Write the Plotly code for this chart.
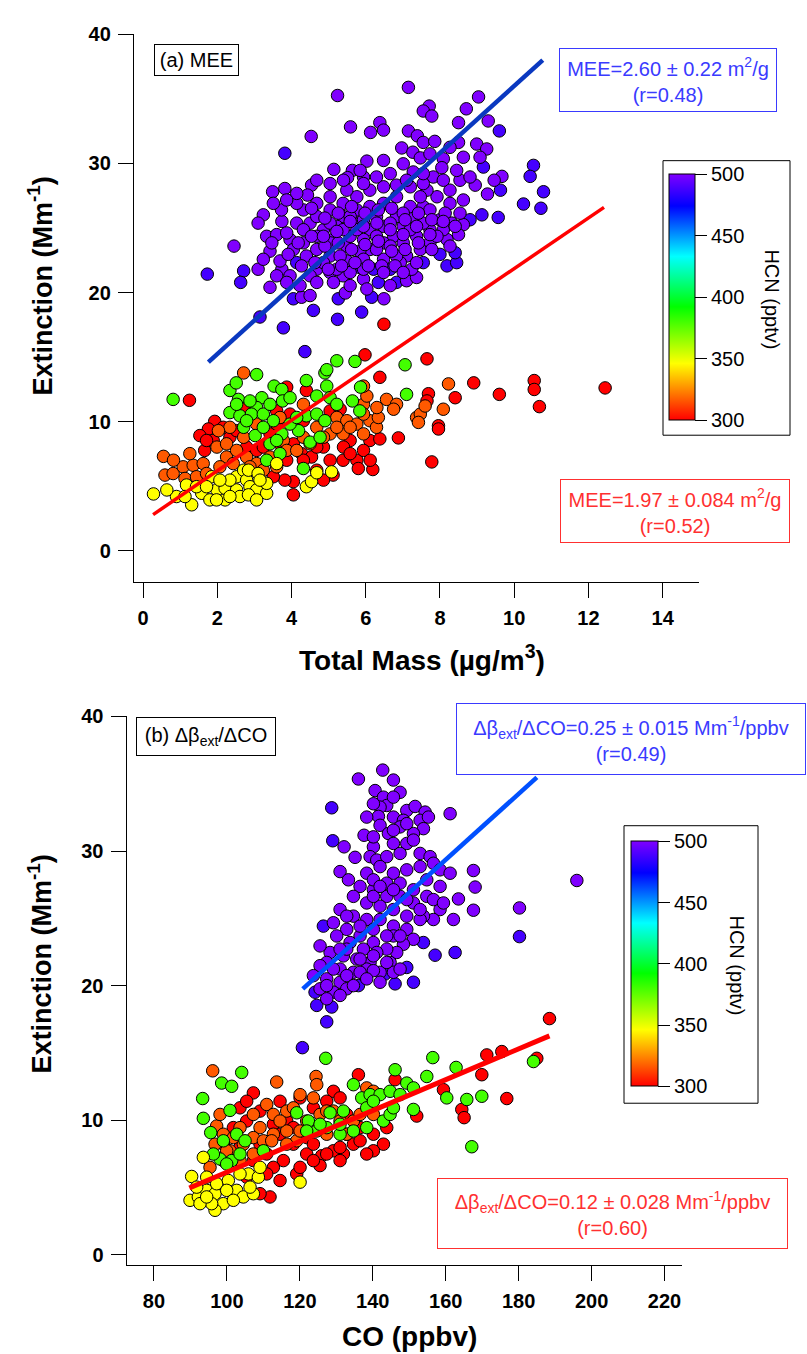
import plotly.graph_objects as go

# ---------------- DATA ----------------
# HCN (pptv) representative value of each colour group
HCN_PURPLE, HCN_BLUE, HCN_GREEN, HCN_YELLOW, HCN_ORANGE, HCN_RED = 510, 488, 380, 346, 316, 295

# Panel (a): (Total Mass, Extinction)
a_purple = [(5.24,35.26),(7.15,35.89),(9.04,35.15),(7.71,34.44),(7.55,34.06),(7.78,33.67),(8.71,34.23),(8.50,33.16),
 (9.30,33.29),(5.59,32.83),(6.38,33.16),(6.13,32.40),(6.48,32.58),(4.53,32.09),(7.15,32.52),(7.39,32.14),(7.55,31.63),
 (7.86,31.71),(6.97,31.20),(7.27,30.87),(7.47,30.43),(8.09,30.36),(8.50,31.63),(8.99,31.50),(9.26,31.12),(9.08,30.48),
 (9.67,29.00),(9.46,28.70),(9.28,27.63),(8.95,28.32),(8.54,28.70),(5.14,29.54),(6.03,30.18),(5.64,29.46),(5.51,28.90),
 (5.94,28.95),(6.66,29.21),(7.28,29.34),(8.05,29.67),(3.49,27.81),(3.82,28.06),(4.54,28.32),(4.43,27.55),(3.24,26.02),
 (3.10,25.38),(3.74,25.51),(2.45,23.60),(3.10,21.81),(3.42,20.41),(3.74,21.81),(6.49,19.52),(4.27,19.64),(4.50,19.77),
 (5.45,19.97),(6.66,20.54),(7.10,20.92),(7.37,21.17),(5.94,21.05),(5.39,21.30),(5.04,21.56),(4.68,21.81),(3.69,22.45),
 (3.42,23.21),(3.33,24.36),(3.60,24.49),(3.96,24.11),(4.32,23.85),(4.68,23.34),(5.04,22.83),(5.49,22.45),(7.10,22.83),
 (8.63,25.26),(8.32,25.38),(8.54,26.15),(8.27,26.91),(7.92,27.42),(7.65,27.93),(7.55,26.66),(7.28,25.89),(7.01,25.13),
 (6.75,24.36),(6.48,23.85),(6.11,23.34),(5.84,23.21),(5.49,23.60),(5.12,24.11),(4.86,24.87),(4.50,25.38),(4.14,25.38),
 (3.87,24.62),(4.05,23.34),(4.40,22.83),(4.68,25.89),(5.04,26.40),(5.39,25.89),(5.76,25.38),(6.11,24.87),(6.48,25.13),
 (6.83,25.89),(7.20,26.66),(7.47,27.42),(7.20,28.19),(6.83,27.42),(6.48,26.91),(6.11,26.66),(5.76,26.40),(5.39,26.91),
 (5.04,27.42),(4.68,26.91),(4.32,26.40),(5.22,25.13),(5.58,24.36),(5.94,24.11),(6.29,24.36),(6.66,23.60),(7.01,23.85),
 (7.37,24.36),(7.73,24.87),(8.00,25.64),(7.73,26.40),(8.19,24.11),(7.73,23.85),(7.47,23.34),(6.93,22.32),(6.48,22.58),
 (5.94,22.58),(5.31,22.83),(4.86,22.32),(4.50,21.30),(3.96,21.30),(3.60,21.30),(6.11,27.93),(6.48,28.19),(5.76,27.42),
 (5.49,27.93),(6.29,28.95),(5.94,28.44),(8.27,27.93),(8.63,27.17),(8.09,24.87),(8.50,24.49),(7.82,28.95),(7.55,28.44),
 (5.04,25.38),(5.58,25.89),(5.94,25.64),(6.29,25.89),(6.66,25.38),(7.01,26.15),(5.04,23.85),(4.68,24.36),(4.32,24.87),
 (5.39,24.87),(5.76,24.87),(6.29,23.34),(6.83,22.83),(7.20,24.87),(7.55,25.38),(7.92,24.36),(5.22,21.81),(5.58,21.56),
 (5.94,21.81),
 (3.73,26.40),(4.14,26.91),(4.54,26.53),(4.90,25.77),(5.26,26.15),(5.62,26.66),(5.98,26.15),(6.34,26.40),(6.70,26.53),
 (7.06,25.64),(7.42,26.15),(7.78,25.64),(8.14,26.15),(8.41,25.13),(4.18,23.85),(4.54,24.36),(4.90,23.60),(5.26,23.85),
 (5.62,23.34),(5.98,23.72),(6.34,23.98),(6.70,23.21),(7.06,23.34),(7.42,23.85),(7.78,23.34),(3.91,22.96),(4.27,22.07),
 (4.63,22.32),(4.99,21.81),(5.35,22.07),(5.71,22.32),(6.07,22.07),(6.43,22.07),(6.79,22.07),(7.24,21.81),(5.94,25.13),
 (5.58,25.51),(5.22,24.74),(4.86,24.36),(6.30,25.38),(6.66,24.87),(7.01,24.49),(7.37,25.13),(7.73,24.49),(8.09,25.51),
 (8.27,23.60),(3.47,23.85),(3.24,22.58),(3.87,20.79),(4.23,20.54),(4.68,20.79),(5.13,20.79),(5.58,20.54),(6.03,20.28),
 (6.48,21.56),(7.01,21.56),(7.37,22.32),(5.04,28.44),(5.40,28.70),(5.85,29.46),(6.83,28.32),(7.10,28.70),(7.55,29.21),
 (8.09,28.70),(8.45,29.46),(8.81,28.95),(8.63,30.48),(8.27,31.25),(7.73,30.74),(7.01,29.97),(6.48,30.23),(4.68,28.70),
 (4.14,27.68),(3.87,27.17),(3.51,26.91)]
a_blue = [(9.60,32.52),(3.82,30.79),(9.17,29.72),(10.52,29.85),(10.43,29.00),(10.79,27.81),(10.25,26.86),(10.72,26.53),
 (9.57,25.82),(9.13,26.02),(9.63,27.93),(1.73,21.43),(2.71,21.68),(2.63,20.79),(4.59,18.62),(5.24,17.93),(5.89,18.49),
 (3.78,17.27),(3.15,18.11),(4.36,15.43),(5.26,19.52),(6.16,19.64),(4.05,19.52),(6.83,20.79),(6.34,20.79),(4.14,22.32),
 (5.84,21.94),(6.21,21.81),(6.66,21.81),(7.55,22.32),(8.00,22.96),(8.19,22.07),(8.45,22.32),(8.41,23.09),(8.81,25.64)]
a_red = [(1.25,11.66),(3.87,12.68),(4.40,12.42),(5.98,15.18),(6.38,13.44),(7.65,14.87),(8.91,13.01),(9.60,12.12),
 (10.54,13.19),(10.54,12.50),(10.68,11.17),(8.41,11.86),(7.69,12.17),(7.65,11.61),(7.96,9.69),(7.96,9.44),(6.88,8.75),
 (7.78,6.89),(6.19,6.30),(1.93,10.03),(1.76,9.44),(1.53,8.93),(1.66,7.78),(1.89,8.55),(2.34,8.80),(2.71,11.10),(2.79,8.04),
 (3.06,7.78),(3.42,9.06),(3.60,10.84),(3.96,10.59),(4.05,8.29),(4.27,7.53),(3.87,7.02),(4.05,5.36),(4.05,4.34),(4.54,7.27),
 (4.86,8.04),(5.04,7.02),(5.12,5.87),(5.39,7.02),(5.04,10.84),(5.31,10.97),(5.58,8.55),(5.76,7.02),(5.80,6.38),(6.11,8.55),
 (6.38,8.67),(6.49,17.55),(3.82,5.48),(3.51,5.74),(12.45,12.62),
 (1.71,8.55),(2.16,9.57),(2.52,9.31),(3.24,8.04),(3.69,8.29),(4.32,7.02),(4.68,6.25),(5.40,8.04),(5.94,7.78),(5.58,7.53),
 (6.12,7.02),(4.86,5.48),(3.60,9.82),(4.32,10.08),(4.68,8.04)]
a_orange = [(2.71,13.78),(0.55,7.32),(0.59,5.87),(0.81,5.99),(1.08,6.51),(1.35,6.63),(1.62,6.76),(1.13,5.61),(1.44,5.74),
 (1.99,8.04),(2.25,7.27),(2.25,8.29),(2.52,7.78),(2.79,7.27),(3.06,6.76),(3.24,6.25),(3.60,6.51),(3.78,8.55),(3.87,7.78),
 (4.32,8.80),(4.68,9.57),(5.22,10.33),(5.49,10.08),(5.39,9.06),(5.76,9.82),(5.94,9.06),(6.11,10.08),(6.29,9.57),(6.34,10.33),
 (5.94,11.35),(6.03,11.99),(5.94,12.76),(6.56,11.73),(6.83,11.35),(6.75,10.97),(7.37,10.33),(7.47,10.59),(7.60,11.22),
 (7.42,9.95),(8.09,10.97),(8.23,12.93),(4.32,11.35),(3.69,10.33),(3.06,9.82),(2.71,8.80),(2.34,9.57),(2.03,9.31),
 (0.82,7.02),(1.26,7.53),(1.71,5.99),(2.07,6.51),(2.43,6.76),(2.88,6.51),(3.42,7.27),(4.14,7.78),(4.50,8.29),(5.04,9.06),
 (5.58,9.57),(5.94,10.59),(6.30,11.10),(5.22,9.57),(4.86,8.80)]
a_yellow = [(0.28,4.41),(0.90,4.21),(1.17,5.10),(1.31,3.57),(1.58,4.46),(1.13,4.21),(1.85,5.74),(1.99,4.72),(2.21,3.95),
 (2.21,4.85),(2.52,4.72),(2.52,5.74),(2.71,6.25),(2.79,5.48),(2.88,4.97),(3.06,4.72),(3.33,4.46),(3.33,5.23),(2.84,6.25),
 (3.10,5.99),(3.60,6.76),(2.61,4.21),(4.40,4.97),(4.54,5.36),(4.68,6.05),(5.08,6.12),(2.84,4.34),(2.34,5.48),(1.80,3.95),
 (1.44,4.97),(2.07,5.48),(2.34,4.21),(3.15,5.48),(1.71,4.97),(3.06,3.95),(0.64,4.72),(1.98,3.95)]
a_green = [(0.81,11.73),(3.06,13.65),(2.34,12.42),(2.57,11.73),(2.51,13.01),(3.53,12.76),(3.74,12.50),(3.76,11.61),
 (3.20,11.86),(3.06,11.10),(4.40,13.19),(4.90,13.78),(4.95,14.03),(5.22,14.72),(5.71,14.67),(4.95,12.76),(4.68,11.99),
 (5.86,12.68),(5.64,11.61),(5.84,10.84),(7.06,14.41),(7.10,12.12),(2.34,10.71),(2.61,10.46),(2.92,10.59),(3.24,10.59),
 (3.51,10.08),(2.71,9.57),(3.02,8.93),(3.42,8.29),(3.33,7.02),(3.69,7.53),(4.40,10.46),(4.68,10.59),(4.90,10.08),(4.19,9.31),
 (4.50,8.42),(4.77,8.80),(4.32,6.38),(3.96,9.82),(3.74,9.06),
 (2.79,10.08),(3.42,11.35),(3.96,11.86),(5.04,11.86),(5.22,11.35),(4.14,10.33),(3.60,8.55),(3.24,9.57),(2.52,11.35),(2.88,11.61)]

# Panel (b): (CO, Extinction)
b_purple = [(142.73,36.01),(136.06,35.35),(145.66,35.27),(140.63,34.49),(147.49,34.36),(142.92,34.00),(143.83,33.38),
 (142.00,33.26),(149.32,33.01),(151.61,33.31),(154.35,32.89),(161.21,32.77),(141.55,32.57),(145.66,32.52),(148.40,32.28),
 (152.98,32.28),(155.26,32.52),(153.89,31.66),(147.49,31.79),(142.00,31.91),(144.29,31.30),(137.61,31.17),(132.13,30.31),
 (135.14,29.53),(140.17,30.31),(145.66,30.56),(149.32,30.56),(139.26,29.58),(141.09,29.33),(143.83,29.58),(147.49,29.82),
 (152.98,29.82),(155.72,29.58),(131.03,28.47),(133.32,27.86),(138.34,28.35),(142.00,28.84),(145.66,28.35),(149.32,28.60),
 (152.98,28.84),(156.63,29.09),(158.46,28.60),(161.21,28.35),(167.61,28.55),(168.07,27.32),(167.61,25.60),(163.49,26.44),
 (162.12,24.91),(180.23,25.77),(195.96,27.81),(158.46,25.65),(156.63,24.91),(153.89,25.16),(151.15,26.14),(147.49,26.63),
 (143.83,26.63),(140.17,27.12),(136.51,27.37),(134.69,26.63),(138.34,26.14),(142.00,25.90),(145.66,25.65),(149.32,25.16),
 (152.98,24.91),(154.81,26.63),(151.15,27.12),(147.49,27.61),(143.83,27.61),(140.17,27.86),(131.03,25.65),(134.69,25.16),
 (138.34,24.91),(142.00,24.91),(145.66,24.42),(149.32,24.18),(151.15,23.44),(148.40,23.07),(146.57,22.46),(143.83,22.71),
 (140.17,23.20),(136.51,23.69),(132.86,24.18),(129.20,24.67),(130.11,23.69),(133.77,23.20),(137.43,22.71),(141.09,22.46),
 (144.75,21.72),(139.26,21.72),(135.60,21.97),(131.94,22.21),(128.29,22.46),(125.54,22.95),(127.37,21.72),(131.03,21.23),
 (134.69,20.99),(138.34,21.23),(142.00,20.99),(145.66,20.99),(125.54,21.48),(123.71,20.74),(127.37,20.50),(131.03,20.25),
 (132.86,19.76),(129.20,19.51),(125.54,19.76),(127.37,19.02),(140.17,21.11),(145.66,23.69),(156.63,26.39),(159.38,26.14),
 (140.17,26.63),(145.66,27.12),(149.32,26.39),(152.98,25.65),(132.86,25.16),(136.52,24.42),(140.17,24.18),(143.83,23.69),
 (147.49,23.69),(132.86,22.71),(136.52,21.97),(131.03,22.71),(129.20,21.23),(132.86,20.74),(136.52,20.99),(140.17,22.21),
 (143.83,21.72),(147.49,21.23),(142.00,20.25),(138.34,20.50),(134.69,20.00),(131.03,19.27),(127.37,20.00),(140.17,31.05),
 (145.66,31.54),(151.15,31.30),(138.34,32.52),(145.66,34.00),(140.17,33.51),(149.32,32.03),(151.15,30.81),(142.00,27.37),
 (154.81,27.86),(158.46,27.37)]
b_blue = [(128.74,33.21),(129.02,30.76),(180.23,23.64),(126.45,24.42),(124.17,19.51),(124.63,18.53),(128.74,18.41),
 (127.37,17.31),(136.06,20.00),(143.37,20.86),(146.12,20.13),(149.32,21.35),(151.15,20.25),(153.89,23.20),(157.09,22.26),
 (162.58,22.46),(120.70,15.39)]
b_red = [(188.46,17.55),(171.27,14.85),(175.38,15.10),(184.98,14.60),(169.90,13.38),(176.75,11.61),(164.41,10.80),
 (165.05,10.19),(159.38,12.27),(152.06,10.31),(146.12,13.01),(136.06,13.38),(129.20,12.15),(107.25,12.03),(103.59,10.92),
 (105.42,9.94),(109.08,10.68),(112.74,9.70),(116.40,9.94),(120.06,11.66),(123.71,10.92),(127.37,11.41),(131.03,11.66),
 (132.86,10.43),(136.52,9.45),(140.17,8.96),(142.92,8.22),(140.17,7.73),(134.69,8.22),(131.94,7.49),(129.20,7.73),
 (126.00,7.36),(125.54,6.63),(121.88,7.49),(118.23,8.22),(115.48,7.00),(112.74,6.50),(114.57,5.52),(110.91,6.01),
 (111.82,4.30),(109.08,4.54),(105.42,5.77),(119.14,6.01),(131.03,7.98),(143.83,9.45),(125.54,9.45),(121.88,8.71),
 (103.59,7.98),(101.77,9.45),(99.02,8.22),(105.42,11.41),(114.57,11.41),
 (114.57,8.96),(118.23,9.45),(123.71,8.22),(127.37,7.49),(132.86,8.96),(136.52,8.47),(138.34,7.49),(131.03,7.00),
 (120.06,6.50),(123.71,7.00),(109.08,8.22),(107.25,7.00),(110.91,7.49)]
b_orange = [(96.10,13.67),(113.65,12.84),(124.44,13.25),(124.63,12.64),(120.06,11.90),(123.71,11.66),(116.40,10.68),
 (110.91,11.17),(112.74,10.43),(109.08,9.45),(97.19,9.57),(99.02,8.96),(96.74,8.22),(100.85,7.73),(104.51,8.22),
 (107.25,8.71),(110.00,8.47),(112.74,8.96),(116.40,9.20),(119.14,8.47),(121.88,9.94),(125.54,10.43),(129.20,10.68),
 (131.03,9.94),(134.69,9.94),(132.86,8.96),(136.52,10.43),(140.17,10.43),(138.34,12.40),(140.17,12.15),(95.36,6.50),
 (99.02,7.00),(103.59,7.00),(107.25,7.49),(120.06,9.20),(127.37,8.96),(116.40,8.22),(112.28,8.47),
 (103.59,9.45),(107.25,10.43),(114.57,9.94),(118.23,10.92),(127.37,10.68),(99.94,7.73),(101.77,8.71),(98.11,10.43)]
b_yellow = [(90.33,5.82),(93.53,7.24),(89.88,4.05),(92.16,4.30),(94.45,4.79),(96.74,4.54),(99.02,3.80),(96.74,3.31),
 (97.19,5.28),(100.39,5.52),(102.68,4.79),(104.51,4.30),(107.25,4.54),(105.88,6.01),(108.62,5.77),(109.08,6.50),
 (103.59,6.01),(120.06,5.40),(95.82,3.80),(91.71,5.03),(94.45,5.77),
 (92.62,3.80),(99.94,4.79),(101.77,4.05),(106.34,5.03),(94.45,4.30)]
b_green = [(104.05,13.55),(98.56,12.76),(101.31,12.52),(127.10,14.60),(156.45,14.65),(162.85,13.92),(146.12,13.75),
 (149.32,12.76),(154.81,13.25),(160.29,11.66),(165.78,11.54),(169.90,11.78),(184.07,14.36),(167.15,8.03),(93.35,11.61),
 (100.85,10.73),(93.53,10.14),(95.55,9.08),(99.02,8.47),(102.68,8.96),(104.97,8.47),(101.31,7.00),(98.11,7.12),
 (119.14,10.55),(122.34,9.94),(128.29,10.55),(131.94,10.68),(134.69,12.64),(136.97,11.66),(139.26,11.90),(142.00,11.90),
 (144.75,12.15),(147.49,11.90),(151.15,10.80),(142.92,9.94),(144.75,10.43),(138.34,9.45),(134.69,9.20),(131.03,8.96),
 (127.37,9.45),(124.63,9.20),(121.88,9.20),(110.00,7.73),(151.15,12.40),
 (96.28,7.49),(103.59,7.49),(99.94,6.75),(138.34,10.92),(145.66,10.92),(140.17,11.41),(131.03,9.70),(125.54,9.70)]

# Regression lines (end points)
fit_a_purple_x, fit_a_purple_y = [1.76, 10.77], [14.62, 38.0]
fit_a_red_x, fit_a_red_y = [0.27, 12.42], [2.81, 26.6]
fit_b_purple_x, fit_b_purple_y = [120.8, 185.0], [19.76, 35.47]
fit_b_red_x, fit_b_red_y = [89.7, 188.45], [4.96, 16.27]

cbar_ticks = [300, 350, 400, 450, 500]
x_ticks_a = [0, 2, 4, 6, 8, 10, 12, 14]
x_ticks_b = [80, 100, 120, 140, 160, 180, 200, 220]
y_ticks = [0, 10, 20, 30, 40]

# ---------------- FIGURE ----------------
W, H = 807, 1354
def px(x): return x / W
def py(y): return 1 - y / H

FONT = "Arial, Liberation Sans, sans-serif"
rainbow = [[0, "#FF0000"], [0.23, "#FFFF00"], [0.46, "#00FF00"], [0.665, "#00FFFF"],
           [0.87, "#0000FF"], [1, "#8000FF"]]

def combine(groups):
    xs, ys, cs = [], [], []
    for pts, h in groups:
        for (x, y) in pts:
            xs.append(x); ys.append(y); cs.append(h)
    return xs, ys, cs

ax, ay, ac = combine([(a_red, HCN_RED), (a_orange, HCN_ORANGE), (a_green, HCN_GREEN),
                      (a_yellow, HCN_YELLOW), (a_blue, HCN_BLUE), (a_purple, HCN_PURPLE)])
bx, by, bc = combine([(b_red, HCN_RED), (b_orange, HCN_ORANGE), (b_green, HCN_GREEN),
                      (b_yellow, HCN_YELLOW), (b_blue, HCN_BLUE), (b_purple, HCN_PURPLE)])

mk = dict(size=12.5, line=dict(color="black", width=1))
fig = go.Figure()
fig.add_trace(go.Scatter(x=ax, y=ay, mode="markers", xaxis="x", yaxis="y",
                         marker=dict(color=ac, coloraxis="coloraxis", **mk), showlegend=False))
fig.add_trace(go.Scatter(x=fit_a_purple_x, y=fit_a_purple_y, mode="lines", xaxis="x", yaxis="y",
                         line=dict(color="#0A38C0", width=4.5), showlegend=False))
fig.add_trace(go.Scatter(x=fit_a_red_x, y=fit_a_red_y, mode="lines", xaxis="x", yaxis="y",
                         line=dict(color="#FF0000", width=3.5), showlegend=False))
fig.add_trace(go.Scatter(x=bx, y=by, mode="markers", xaxis="x2", yaxis="y2",
                         marker=dict(color=bc, coloraxis="coloraxis2", **mk), showlegend=False))
fig.add_trace(go.Scatter(x=fit_b_purple_x, y=fit_b_purple_y, mode="lines", xaxis="x2", yaxis="y2",
                         line=dict(color="#0050FF", width=4.5), showlegend=False))
fig.add_trace(go.Scatter(x=fit_b_red_x, y=fit_b_red_y, mode="lines", xaxis="x2", yaxis="y2",
                         line=dict(color="#FF0000", width=5), showlegend=False))

tickfont = dict(family=FONT, size=20, color="black", weight="bold")
axcommon = dict(showline=True, linecolor="black", linewidth=1, ticks="outside", ticklen=15,
                tickwidth=1, tickcolor="black", showgrid=False, zeroline=False, tickfont=tickfont,
                ticklabelstandoff=3)

def cbar(x_left, y_bottom, length, thick):
    return dict(x=px(x_left), xanchor="left", y=py(y_bottom), yanchor="bottom",
                len=length, lenmode="pixels", thickness=thick, thicknessmode="pixels",
                xpad=0, ypad=0, outlinewidth=1, outlinecolor="black", borderwidth=0,
                ticks="outside", ticklen=12, tickwidth=1, tickcolor="black",
                tickvals=cbar_ticks, tickfont=dict(family=FONT, size=20, color="black"))

fig.update_layout(
    width=W, height=H, margin=dict(l=0, r=0, t=0, b=0, pad=0),
    paper_bgcolor="white", plot_bgcolor="rgba(0,0,0,0)",
    xaxis=dict(domain=[px(133.8), px(699)], range=[-0.25, 14.98], tickvals=x_ticks_a, anchor="y", **axcommon),
    yaxis=dict(domain=[py(576), py(23.5)], range=[-2.4, 40], tickvals=y_ticks, anchor="x", **axcommon),
    xaxis2=dict(domain=[px(126.5), px(682)], range=[72.46, 224.8], tickvals=x_ticks_b, anchor="y2", **axcommon),
    yaxis2=dict(domain=[py(1265), py(711.7)], range=[-0.74, 40], tickvals=y_ticks, anchor="x2", **axcommon),
    coloraxis=dict(cmin=300, cmax=500, colorscale=rainbow, colorbar=cbar(669, 413, 246, 26)),
    coloraxis2=dict(cmin=300, cmax=500, colorscale=rainbow, colorbar=cbar(631, 1085, 245, 27)),
)

# colour-bar frames
for (x0, x1, y0, y1) in [(663, 790, 151, 428), (624, 758, 822, 1102)]:
    fig.add_shape(type="rect", xref="paper", yref="paper", x0=px(x0), x1=px(x1), y0=py(y1), y1=py(y0),
                  line=dict(color="black", width=1), fillcolor="rgba(0,0,0,0)", layer="above")

def box(text, cx, cy, w, h, color, border):
    fig.add_annotation(text=text, xref="paper", yref="paper", x=px(cx), y=py(cy), xanchor="center",
                       yanchor="middle", showarrow=False, width=w - 2, height=h - 2, borderpad=0,
                       bordercolor=border, borderwidth=1, bgcolor="white", align="center",
                       font=dict(family=FONT, size=20, color=color))

box("(a) MEE", 196.5, 49, 85, 32, "black", "black")
box("MEE=2.60 ± 0.22 m<sup>2</sup>/g<br>(r=0.48)", 668, 70, 218, 64, "#3A3AFF", "#3A3AFF")
box("MEE=1.97 ± 0.084 m<sup>2</sup>/g<br>(r=0.52)", 675, 504, 230, 64, "#FF3030", "#FF3030")
box("(b) Δβ<sub>ext</sub>/ΔCO", 206, 731.5, 140, 39, "black", "black")
box("Δβ<sub>ext</sub>/ΔCO=0.25 ± 0.015 Mm<sup>-1</sup>/ppbv<br>(r=0.49)", 631, 735, 350, 72, "#3A3AFF", "#3A3AFF")
box("Δβ<sub>ext</sub>/ΔCO=0.12 ± 0.028 Mm<sup>-1</sup>/ppbv<br>(r=0.60)", 612.5, 1213.5, 351, 71, "#FF3030", "#FF3030")

def label(text, cx, cy, size, angle=0, bold=True):
    fig.add_annotation(text=("<b>%s</b>" % text) if bold else text, xref="paper", yref="paper",
                       x=px(cx), y=py(cy), xanchor="center", yanchor="middle", showarrow=False,
                       textangle=angle, font=dict(family=FONT, size=size, color="black"))

label("Total Mass (µg/m<sup>3</sup>)", 422, 653, 28)
label("Extinction (Mm<sup>-1</sup>)", 40, 278, 27, angle=-90)
label("CO (ppbv)", 409, 1337, 28)
label("Extinction (Mm<sup>-1</sup>)", 40, 962, 27, angle=-90)
label("HCN (pptv)", 772, 291, 20, angle=90, bold=False)
label("HCN (pptv)", 737, 963, 20, angle=90, bold=False)

fig.write_html("out.html", config={"displayModeBar": False},
               post_script="document.body.style.margin='0px';")
